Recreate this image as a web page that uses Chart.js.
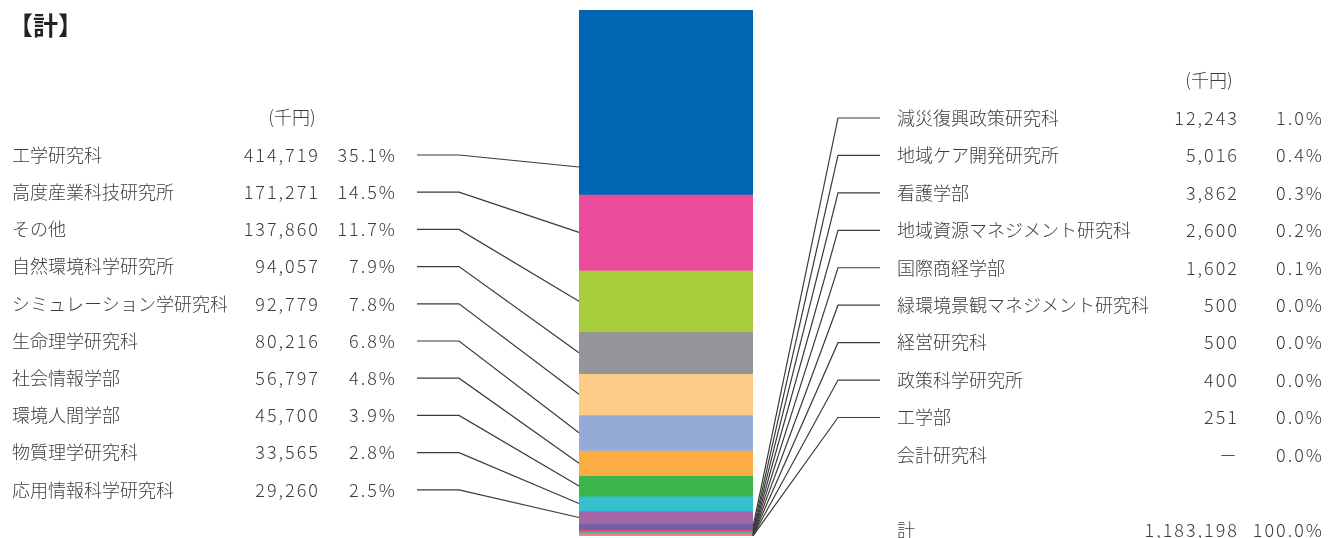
<!DOCTYPE html>
<html lang="ja">
<head>
<meta charset="utf-8">
<title>計</title>
<script src="https://cdn.jsdelivr.net/npm/chart.js@4/dist/chart.umd.min.js"></script>
<style>
  html, body { margin: 0; padding: 0; background: #fff; }
  #wrap { position: relative; width: 1334px; height: 538px; }
</style>
</head>
<body>
<div id="wrap"><canvas id="stackChart"></canvas></div>
<script>
// 部局名（上から積み上げ順）
const names = [
  "工学研究科", "高度産業科技研究所", "その他", "自然環境科学研究所",
  "シミュレーション学研究科", "生命理学研究科", "社会情報学部", "環境人間学部",
  "物質理学研究科", "応用情報科学研究科",
  "減災復興政策研究科", "地域ケア開発研究所", "看護学部", "地域資源マネジメント研究科",
  "国際商経学部", "緑環境景観マネジメント研究科", "経営研究科", "政策科学研究所",
  "工学部", "会計研究科"
];
// 金額（千円）、null は「－」
const values = [
  414719, 171271, 137860, 94057,
  92779, 80216, 56797, 45700,
  33565, 29260,
  12243, 5016, 3862, 2600,
  1602, 500, 500, 400,
  251, null
];
const colors = [
  "#0066b3", "#ec4c9c", "#a8cd3a", "#939598",
  "#fdcd88", "#95aad6", "#fbad44", "#3bb54a",
  "#36bfcf", "#a566a8",
  "#6f5faa", "#ee4a6a", "#55b89a", "#f07f8f",
  "#7f8fc9", "#b7b7b7", "#9fd0a8", "#c9a0cf",
  "#888888", "#cccccc"
];
const leftCount = 10; // 左側に並べる件数

const total = values.reduce((s, v) => s + (v || 0), 0);
const fmt = (v) => (v == null ? "－" : v.toLocaleString("en-US"));
const pct = (v) => (((v || 0) / total) * 100).toFixed(1) + "%";

const FONT = "'Noto Sans CJK JP', 'Noto Sans', sans-serif";
const TEXT = "#3c3c3c";
const LINE = "#3a3a3a";
const NUM_SPACING = 2; // 数字の字間

// 数字は字間を広げて右揃え
function numText(ctx, s, x, y) {
  ctx.save();
  ctx.letterSpacing = NUM_SPACING + "px";
  ctx.textAlign = "right";
  ctx.fillText(s, x + NUM_SPACING, y);
  ctx.restore();
}

// ── ラベルと引き出し線 ──
const labelPlugin = {
  id: "labelPlugin",
  afterDraw(chart) {
    const ctx = chart.ctx;
    const area = chart.chartArea;
    ctx.save();

    // タイトル
    ctx.fillStyle = "#222";
    ctx.font = "bold 25px " + FONT;
    ctx.textBaseline = "middle";
    ctx.textAlign = "left";
    ctx.fillText("【計】", 8, 25);

    ctx.font = "300 18px " + FONT;
    ctx.fillStyle = TEXT;
    ctx.strokeStyle = LINE;
    ctx.lineWidth = 1.2;

    // 単位
    ctx.textAlign = "center";
    ctx.fillText("(千円)", 292, 117);
    ctx.fillText("(千円)", 1209, 80);

    const segMid = (i) => {
      const el = chart.getDatasetMeta(i).data[0];
      return (el.y + el.base) / 2;
    };

    // 左側
    const leftTop = 155, leftStep = 37.2;
    for (let i = 0; i < leftCount; i++) {
      const y = leftTop + i * leftStep;
      ctx.textAlign = "left";
      ctx.fillText(names[i], 12, y);
      numText(ctx, fmt(values[i]), 318, y);
      numText(ctx, pct(values[i]), 395, y);

      const endY = Math.max(segMid(i), y + 12);
      ctx.beginPath();
      ctx.moveTo(417, y);
      ctx.lineTo(459, y);
      ctx.lineTo(area.left, endY);
      ctx.stroke();
    }

    // 右側
    const rightTop = 118, rightStep = 37.44;
    for (let i = leftCount; i < names.length; i++) {
      const y = rightTop + (i - leftCount) * rightStep;
      ctx.textAlign = "left";
      ctx.fillText(names[i], 897, y);
      numText(ctx, fmt(values[i]), 1237, y);
      numText(ctx, pct(values[i]), 1322, y);

      if (values[i] != null) {
        ctx.beginPath();
        ctx.moveTo(area.right, segMid(i));
        ctx.lineTo(838, y);
        ctx.lineTo(880, y);
        ctx.stroke();
      }
    }

    // 合計
    ctx.textAlign = "left";
    ctx.fillText("計", 897, 530);
    numText(ctx, fmt(total), 1237, 530);
    numText(ctx, "100.0%", 1322, 530);

    ctx.restore();
  },
};

const datasets = names.map((n, i) => ({
  label: n,
  data: [values[i]],
  backgroundColor: colors[i],
  borderWidth: 0,
  barPercentage: 1,
  categoryPercentage: 1,
}));

new Chart(document.getElementById("stackChart"), {
  type: "bar",
  data: { labels: ["計"], datasets },
  options: {
    responsive: true,
    maintainAspectRatio: false,
    animation: false,
    layout: { padding: { left: 579, right: 581, top: 10, bottom: 2 } },
    plugins: { legend: { display: false }, tooltip: { enabled: false } },
    scales: {
      x: { stacked: true, display: false },
      y: { stacked: true, display: false, reverse: true, min: 0, max: total },
    },
  },
  plugins: [labelPlugin],
});
</script>
</body>
</html>
